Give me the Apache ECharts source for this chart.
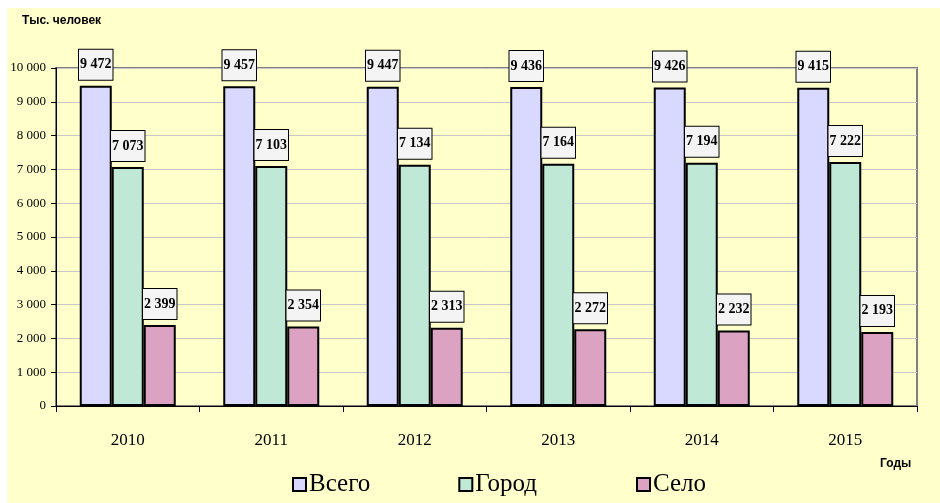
<!DOCTYPE html>
<html>
<head>
<meta charset="utf-8">
<script src="https://cdn.jsdelivr.net/npm/echarts@6/dist/echarts.min.js"></script>
<style>
html,body{margin:0;padding:0;background:#fff;width:940px;height:503px;overflow:hidden;}
#c{position:absolute;left:7px;top:8px;width:933px;height:495px;}
</style>
</head>
<body>
<div id="c"></div>
<script>
const categories = ['2010','2011','2012','2013','2014','2015'];
const seriesNames = ['Всего','Город','Село'];
const vsego = [9472, 9457, 9447, 9436, 9426, 9415];
const gorod = [7073, 7103, 7134, 7164, 7194, 7222];
const selo = [2399, 2354, 2313, 2272, 2232, 2193];
const yTicks = {min: 0, max: 10000, interval: 1000};
const colors = ['#D9D9FF', '#C0E8D6', '#DBA3C1'];

function fmt(v){ return String(v).replace(/\B(?=(\d{3})+(?!\d))/g, ' '); }

const chart = echarts.init(document.getElementById('c'));
const serif = '"Liberation Serif", "Times New Roman", serif';
const sans = '"Liberation Sans", Arial, sans-serif';

function mk(name, data, color){
  return {
    name: name, type: 'bar', data: data, barWidth: 32, barGap: '0%',
    itemStyle: {color: color, borderColor: '#000', borderWidth: 2},
    label: {
      show: true, position: 'top', distance: 6,
      formatter: p => fmt(p.value),
      fontFamily: serif, fontWeight: 'bold', fontSize: 14, color: '#000',
      backgroundColor: '#F4F4F4', borderColor: '#000', borderWidth: 1,
      lineHeight: 14, padding: [8, 1, 8, 1]
    }
  };
}

const legendBase = {
  top: 459, itemGap: 88, itemWidth: 13, itemHeight: 13, icon: 'rect',
  textStyle: {fontFamily: serif, fontSize: 25, color: '#000', padding: [0, 0, 0, -2]},
  itemStyle: {borderColor: '#000', borderWidth: 2}
};

chart.setOption({
  backgroundColor: '#FFFFCC',
  animation: false,
  graphic: [
    {type: 'text', left: 15, top: 7, style: {text: 'Тыс. человек', font: 'bold 12px ' + sans, fill: '#000'}},
    {type: 'text', left: 873, top: 450, style: {text: 'Годы', font: 'bold 12px ' + sans, fill: '#000'}}
  ],
  grid: {left: 49, right: 23, top: 60, bottom: 97, show: true, borderColor: '#808080', borderWidth: 2, backgroundColor: 'transparent'},
  legend: [
    Object.assign({}, legendBase, {data: seriesNames.slice(0, 2), left: 280}),
    Object.assign({}, legendBase, {data: seriesNames.slice(2), left: 624})
  ],
  xAxis: {
    type: 'category', data: categories,
    axisLine: {lineStyle: {color: '#000', width: 1}},
    axisTick: {show: true, length: 6, lineStyle: {color: '#000'}},
    axisLabel: {fontFamily: serif, fontSize: 17, color: '#000', margin: 26}
  },
  yAxis: {
    type: 'value', min: yTicks.min, max: yTicks.max, interval: yTicks.interval,
    axisLine: {show: true, lineStyle: {color: '#000', width: 1}},
    axisTick: {show: true, length: 5, lineStyle: {color: '#000'}},
    axisLabel: {fontFamily: serif, fontSize: 13, color: '#000', margin: 10, formatter: v => fmt(v)},
    splitLine: {lineStyle: {color: '#C8C8C8', width: 1}}
  },
  series: [mk(seriesNames[0], vsego, colors[0]), mk(seriesNames[1], gorod, colors[1]), mk(seriesNames[2], selo, colors[2])]
});
</script>
</body>
</html>
